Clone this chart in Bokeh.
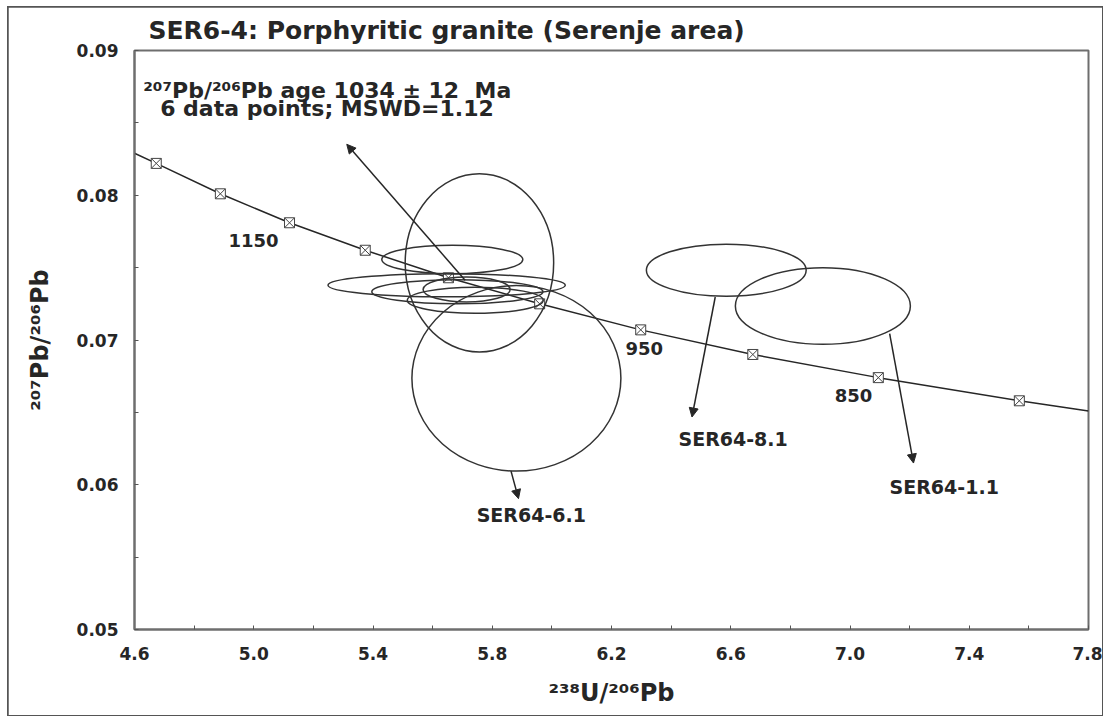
from bokeh.plotting import figure
from bokeh.models import (Range1d, FixedTicker, NumeralTickFormatter, Arrow,
                          NormalHead, ColumnDataSource)
from bokeh.core.properties import value
from bokeh.embed import file_html
from bokeh.resources import INLINE

# ---------------- data ----------------
# Concordia curve (Tera-Wasserburg) points
concordia_x = [4.60, 4.673, 4.888, 5.120, 5.374, 5.653, 5.959, 6.298, 6.674, 7.095, 7.568, 7.80]
concordia_y = [0.0829, 0.0822, 0.0801, 0.0781, 0.0762, 0.0743, 0.0725, 0.0707, 0.0690, 0.0674, 0.0658, 0.0651]

# Age markers along the concordia (Ma)
marker_age = [1250, 1200, 1150, 1100, 1050, 1000, 950, 900, 850, 800]
marker_x = [4.673, 4.888, 5.120, 5.374, 5.653, 5.959, 6.298, 6.674, 7.095, 7.568]
marker_y = [0.0822, 0.0801, 0.0781, 0.0762, 0.0743, 0.0725, 0.0707, 0.0690, 0.0674, 0.0658]

# Labelled ages
age_label = ["1150", "950", "850"]
age_label_x = [4.999, 6.310, 7.012]
age_label_y = [0.07689, 0.06941, 0.06616]

# Error ellipses (centre, full width in 238U/206Pb, full height in 207Pb/206Pb)
spot = ["SER64-6.1", "SER64-8.1", "SER64-1.1", "a", "b", "c", "d", "e", "f"]
ell_x = [5.881, 6.585, 6.909, 5.757, 5.666, 5.647, 5.683, 5.714, 5.743]
ell_y = [0.06735, 0.07482, 0.07235, 0.07533, 0.07556, 0.07378, 0.07333, 0.07349, 0.07274]
ell_w = [0.701, 0.536, 0.587, 0.498, 0.473, 0.796, 0.574, 0.292, 0.456]
ell_h = [0.01282, 0.0036, 0.0053, 0.01232, 0.00196, 0.0016, 0.00166, 0.00172, 0.0018]

# Arrows (start -> end)
arrow_x0 = [5.709, 6.548, 7.133, 5.863]
arrow_y0 = [0.07413, 0.07297, 0.07044, 0.06094]
arrow_x1 = [5.312, 6.470, 7.213, 5.888]
arrow_y1 = [0.08352, 0.06468, 0.06150, 0.05904]

# Sample labels
sample_label = ["SER64-6.1", "SER64-8.1", "SER64-1.1"]
sample_label_x = [5.931, 6.608, 7.316]
sample_label_y = [0.05788, 0.06314, 0.05982]

# Result text
result_text = ["²⁰⁷Pb/²⁰⁶Pb age 1034 ± 12\u00a0 Ma", "6 data points; MSWD=1.12"]
result_x = [4.629, 4.686]
result_y = [0.08726, 0.08601]

x_ticks = [4.6, 5.0, 5.4, 5.8, 6.2, 6.6, 7.0, 7.4, 7.8]
x_minor = [4.8, 5.2, 5.6, 6.0, 6.4, 6.8, 7.2, 7.6]
y_ticks = [0.05, 0.06, 0.07, 0.08, 0.09]
y_minor = [0.055, 0.065, 0.075, 0.085]

FONT = "DejaVu Sans"
INK = "#262626"

p = figure(width=1094, height=708, margin=(7, 0, 0, 8),
           x_range=Range1d(4.6, 7.8), y_range=Range1d(0.05, 0.09),
           output_backend="svg", toolbar_location=None,
           min_border_left=126, min_border_right=14,
           min_border_top=43, min_border_bottom=86,
           title="SER6-4: Porphyritic granite (Serenje area)")

p.title.align = "left"
p.title.offset = 14
p.title.text_font = FONT
p.title.text_font_style = "bold"
p.title.text_font_size = "25px"
p.title.text_color = INK
p.title.standoff = 12

p.grid.visible = False
p.background_fill_color = "white"
p.border_fill_color = "white"
p.outline_line_color = "#6e6e6e"
p.outline_line_width = 2
p.styles = {"outline": "2px solid #555555", "outline-offset": "-1px"}

p.xaxis.ticker = FixedTicker(ticks=x_ticks, minor_ticks=x_minor)
p.yaxis.ticker = FixedTicker(ticks=y_ticks, minor_ticks=y_minor)
p.xaxis.formatter = NumeralTickFormatter(format="0.0")
p.yaxis.formatter = NumeralTickFormatter(format="0.00")

for ax in (p.xaxis, p.yaxis):
    ax.axis_line_color = "#6e6e6e"
    ax.axis_line_width = 2
    ax.major_tick_in = 4
    ax.major_tick_out = 0
    ax.minor_tick_in = 4
    ax.minor_tick_out = 0
    ax.major_tick_line_color = "#555555"
    ax.minor_tick_line_color = "#555555"
    ax.major_label_text_font = FONT
    ax.major_label_text_font_style = "bold"
    ax.major_label_text_font_size = "17px"
    ax.major_label_text_color = INK
    ax.axis_label_text_font = FONT
    ax.axis_label_text_font_style = "bold"
    ax.axis_label_text_font_size = "24px"
    ax.axis_label_text_color = INK

p.xaxis.axis_label = "²³⁸U/²⁰⁶Pb"
p.yaxis.axis_label = "²⁰⁷Pb/²⁰⁶Pb"
p.xaxis.major_label_standoff = 17
p.xaxis.axis_label_standoff = 16
p.yaxis.major_label_standoff = 16
p.yaxis.axis_label_standoff = 20

# concordia curve and markers
p.line(concordia_x, concordia_y, line_color=INK, line_width=1.5)
p.scatter(marker_x, marker_y, marker="square_x", size=10,
          line_color="#444444", fill_color="white", line_width=1)

# error ellipses
p.ellipse(x=ell_x, y=ell_y, width=ell_w, height=ell_h,
          fill_color=None, line_color="#333333", line_width=1.5)

# arrows
asrc = ColumnDataSource(dict(x0=arrow_x0, y0=arrow_y0, x1=arrow_x1, y1=arrow_y1))
p.add_layout(Arrow(x_start="x0", y_start="y0", x_end="x1", y_end="y1", source=asrc,
                   line_color=INK, line_width=1.5,
                   end=NormalHead(size=9, fill_color=INK, line_color=INK)))

# texts
p.text(age_label_x, age_label_y, text=age_label, text_font=value(FONT),
       text_font_style="bold", text_font_size="18px", text_align="center",
       text_baseline="middle", text_color=INK)
p.text(sample_label_x, sample_label_y, text=sample_label, text_font=value(FONT),
       text_font_style="bold", text_font_size="19px", text_align="center",
       text_baseline="middle", text_color=INK)
p.text(result_x, result_y, text=result_text, text_font=value(FONT),
       text_font_style="bold", text_font_size="22px", text_align="left",
       text_baseline="middle", text_color=INK)

open("out.html", "w").write(file_html(p, INLINE))
